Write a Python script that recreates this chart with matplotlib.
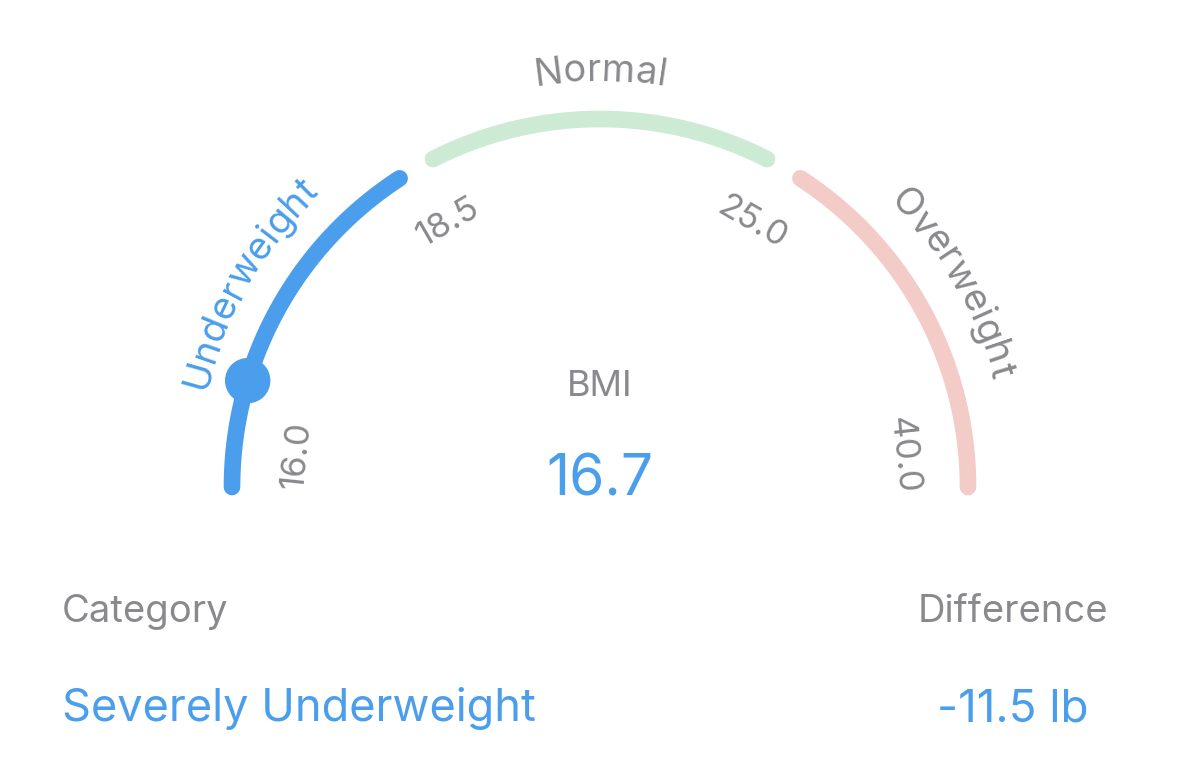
import numpy as np
import matplotlib
matplotlib.use("Agg")
import matplotlib.pyplot as plt
from matplotlib.patches import Circle
from matplotlib.font_manager import FontProperties
from matplotlib.textpath import TextToPath

# gauge data
categories = ["Underweight", "Normal", "Overweight"]
bounds = [16.0, 18.5, 25.0, 40.0]
tick_labels = ["16.0", "18.5", "25.0", "40.0"]
seg_colors = ["#4A9EEB", "#CDEAD5", "#F3CBC7"]
bmi = 16.7
category = "Severely Underweight"
difference = "-11.5 lb"

BLUE = "#4A9EEB"
GREY = "#8A8A8E"
FONT = "Inter"

# gauge geometry (pixel coords, y pointing down)
CX, CY, R = 600, 487, 368
bound_angles = [180, 120, 60, 0]
GAP = 3.0

fig = plt.figure(figsize=(12, 7.72), dpi=100)
ax = fig.add_axes([0, 0, 1, 1])
ax.set_xlim(0, 1200)
ax.set_ylim(772, 0)
ax.set_aspect("equal")
ax.axis("off")

t2p = TextToPath()


def to_angle(v):
    return np.interp(v, bounds, bound_angles)


def polar(a, r):
    t = np.radians(a)
    return CX + r * np.cos(t), CY - r * np.sin(t)


def text_w(s, fp):
    if not s:
        return 0.0
    w, h, d = t2p.get_text_width_height_descent(s, fp, ismath=False)
    return w * 100 / 72


def arc_text(s, mid, r, size, color):
    # lay out each character along the arc, clockwise
    fp = FontProperties(family=FONT, size=size)
    total = text_w(s, fp)
    for i, ch in enumerate(s):
        off = (text_w(s[:i], fp) + text_w(s[:i + 1], fp)) / 2 - total / 2
        a = mid - np.degrees(off / r)
        x, y = polar(a, r)
        ax.text(x, y, ch, fontproperties=fp, color=color, rotation=a - 90,
                rotation_mode="anchor", ha="center", va="baseline")


active = int(np.searchsorted(bounds, bmi, side="right") - 1)
active = min(max(active, 0), len(categories) - 1)

for i, (name, col) in enumerate(zip(categories, seg_colors)):
    a0, a1 = to_angle(bounds[i]), to_angle(bounds[i + 1])
    s0 = a0 - GAP if i > 0 else a0
    s1 = a1 + GAP if i < len(categories) - 1 else a1
    t = np.linspace(s0, s1, 300)
    x, y = polar(t, R)
    ax.plot(x, y, color=col, lw=12, solid_capstyle="round", zorder=2)
    arc_text(name, (a0 + a1) / 2, 406, 27.5, BLUE if i == active else GREY)

for v, lab in zip(bounds, tick_labels):
    a = float(np.clip(to_angle(v), 6, 174))
    x, y = polar(a, 305)
    ax.text(x, y, lab, fontfamily=FONT, fontsize=25, color=GREY,
            rotation=a - 90, rotation_mode="anchor", ha="center", va="center")

mx, my = polar(to_angle(bmi), R)
ax.add_patch(Circle((mx, my), 22, color=BLUE, zorder=5))

ax.text(600, 396, "BMI", fontfamily=FONT, fontsize=26, color=GREY,
        ha="center", va="baseline")
ax.text(600, 495, f"{bmi:.1f}", fontfamily=FONT, fontsize=41, color=BLUE,
        ha="center", va="baseline")

ax.text(62, 622, "Category", fontfamily=FONT, fontsize=27.5, color=GREY,
        ha="left", va="baseline")
ax.text(62, 721, category, fontfamily=FONT, fontsize=32.5, color=BLUE,
        ha="left", va="baseline")
ax.text(1013, 622, "Difference", fontfamily=FONT, fontsize=27.5, color=GREY,
        ha="center", va="baseline")
ax.text(1013, 721, difference, fontfamily=FONT, fontsize=33, color=BLUE,
        ha="center", va="baseline")

fig.savefig("out.png", dpi=100, facecolor="white")
